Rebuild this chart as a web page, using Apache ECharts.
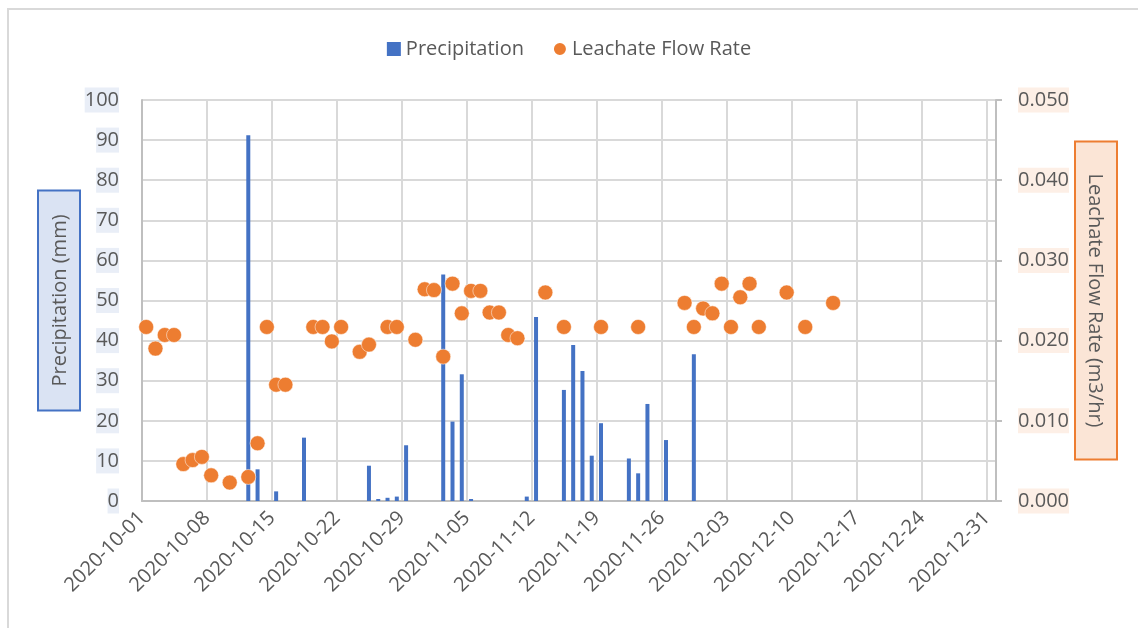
<!DOCTYPE html>
<html>
<head>
<meta charset="utf-8">
<script src="https://cdn.jsdelivr.net/npm/echarts@6/dist/echarts.min.js"></script>
<style>
  html, body { margin: 0; padding: 0; background: #fff; }
  #main { width: 1138px; height: 628px; }
</style>
</head>
<body>
<div id="main"></div>
<script>
// 降水量（柱）
var rainDates = ['2020-10-12', '2020-10-13', '2020-10-15', '2020-10-18', '2020-10-25', '2020-10-26',
    '2020-10-27', '2020-10-28', '2020-10-29', '2020-11-02', '2020-11-03', '2020-11-04', '2020-11-05',
    '2020-11-11', '2020-11-12', '2020-11-15', '2020-11-16', '2020-11-17', '2020-11-18', '2020-11-19',
    '2020-11-22', '2020-11-23', '2020-11-24', '2020-11-26', '2020-11-29'];
var rainValues = [91.2, 7.9, 2.4, 15.8, 8.8, 0.5,
    0.8, 1.1, 13.9, 56.5, 19.8, 31.6, 0.5,
    1.1, 45.9, 27.7, 38.9, 32.4, 11.3, 19.4,
    10.6, 6.9, 24.2, 15.2, 36.6];

// 渗滤液流量（散点）
var flowDates = ['2020-10-01', '2020-10-02', '2020-10-03', '2020-10-04', '2020-10-05', '2020-10-06',
    '2020-10-07', '2020-10-08', '2020-10-10', '2020-10-12', '2020-10-13', '2020-10-14', '2020-10-15',
    '2020-10-16', '2020-10-19', '2020-10-20', '2020-10-21', '2020-10-22', '2020-10-24', '2020-10-25',
    '2020-10-27', '2020-10-28', '2020-10-30', '2020-10-31', '2020-11-01', '2020-11-02', '2020-11-03',
    '2020-11-04', '2020-11-05', '2020-11-06', '2020-11-07', '2020-11-08', '2020-11-09', '2020-11-10',
    '2020-11-13', '2020-11-15', '2020-11-19', '2020-11-23', '2020-11-28', '2020-11-29', '2020-11-30',
    '2020-12-01', '2020-12-02', '2020-12-03', '2020-12-04', '2020-12-05', '2020-12-06', '2020-12-09',
    '2020-12-11', '2020-12-14'];
var flowValues = [0.0217, 0.0190, 0.0207, 0.0207, 0.0046, 0.0051,
    0.0055, 0.0032, 0.0023, 0.0030, 0.0072, 0.0217, 0.0145,
    0.0145, 0.0217, 0.0217, 0.0199, 0.0217, 0.0186, 0.0195,
    0.0217, 0.0217, 0.0201, 0.0264, 0.0263, 0.0180, 0.0271,
    0.0234, 0.0262, 0.0262, 0.0235, 0.0235, 0.0207, 0.0203,
    0.0260, 0.0217, 0.0217, 0.0217, 0.0247, 0.0217, 0.0240,
    0.0234, 0.0271, 0.0217, 0.0254, 0.0271, 0.0217, 0.0260,
    0.0217, 0.0247];

var startDate = '2020-10-01';
var totalDays = 92;   // 到 2021-01-01
var precipTicks = { min: 0, max: 100, interval: 10 };
var flowTicks = { min: 0, max: 0.05, interval: 0.01 };

var DAY = 86400000;
var t0 = Date.parse(startDate + 'T00:00:00Z');

// 日期 -> 天序号（标记放在当天的中间）
function dayPos(s) {
    return (Date.parse(s + 'T00:00:00Z') - t0) / DAY + 0.45;
}
function dayLabel(v) {
    if (v >= totalDays) return '';
    return new Date(t0 + v * DAY).toISOString().slice(0, 10);
}

var fontFamily = '"Open Sans", "Noto Sans", sans-serif';
var textColor = '#595959';

var myChart = echarts.init(document.getElementById('main'));

var option = {
    backgroundColor: '#fff',
    textStyle: { fontFamily: fontFamily },
    animation: false,
    graphic: [{
        type: 'polyline',
        shape: { points: [[8, 628], [8, 9], [1138, 9]] },
        style: { stroke: '#D9D9D9', lineWidth: 2, fill: null }
    }],
    legend: {
        top: 34,
        left: 'center',
        itemWidth: 14,
        itemHeight: 14,
        itemGap: 28,
        textStyle: { fontSize: 20, color: textColor, fontFamily: fontFamily },
        data: [
            { name: 'Precipitation', icon: 'rect' },
            { name: 'Leachate Flow Rate', icon: 'circle' }
        ]
    },
    grid: { left: 142, right: 142, top: 100, bottom: 127 },
    xAxis: {
        type: 'value',
        min: 0,
        max: totalDays,
        interval: 7,
        axisLine: { show: true, lineStyle: { color: '#BFBFBF', width: 2 } },
        axisTick: { show: false },
        axisLabel: {
            rotate: 45,
            margin: 14,
            fontSize: 20,
            color: textColor,
            fontFamily: fontFamily,
            formatter: dayLabel
        },
        splitLine: { show: true, lineStyle: { color: '#D9D9D9', width: 2 } }
    },
    yAxis: [{
        type: 'value',
        min: precipTicks.min,
        max: precipTicks.max,
        interval: precipTicks.interval,
        name: 'Precipitation (mm)',
        nameLocation: 'middle',
        nameRotate: 90,
        nameGap: 63,
        nameMoveOverlap: false,
        nameTextStyle: {
            fontSize: 20,
            color: textColor,
            fontFamily: fontFamily,
            backgroundColor: '#DAE3F3',
            borderColor: '#4472C4',
            borderWidth: 2,
            padding: [11, 23, 9, 23]
        },
        axisLine: { show: true, lineStyle: { color: '#BFBFBF', width: 2 } },
        axisTick: { show: false },
        axisLabel: {
            margin: 23,
            fontSize: 20,
            color: textColor,
            fontFamily: fontFamily,
            backgroundColor: '#E9EEF7',
            padding: [3, 0, 2, 0]
        },
        splitLine: { show: true, lineStyle: { color: '#D9D9D9', width: 2 } }
    }, {
        type: 'value',
        position: 'right',
        min: flowTicks.min,
        max: flowTicks.max,
        interval: flowTicks.interval,
        name: 'Leachate Flow Rate (m3/hr)',
        nameLocation: 'middle',
        nameRotate: -90,
        nameGap: 80,
        nameMoveOverlap: false,
        nameTextStyle: {
            fontSize: 20,
            color: textColor,
            fontFamily: fontFamily,
            backgroundColor: '#FBE5D6',
            borderColor: '#ED7D31',
            borderWidth: 2,
            padding: [11, 31, 9, 31]
        },
        axisLine: { show: true, lineStyle: { color: '#BFBFBF', width: 2 } },
        axisTick: { show: true, length: 6, lineStyle: { color: '#BFBFBF', width: 2 } },
        axisLabel: {
            margin: 22,
            fontSize: 20,
            color: textColor,
            fontFamily: fontFamily,
            backgroundColor: '#FDEFE6',
            padding: [3, 0, 2, 0],
            formatter: function (v) { return v.toFixed(3); }
        },
        splitLine: { show: false }
    }],
    series: [{
        name: 'Precipitation',
        type: 'bar',
        yAxisIndex: 0,
        barWidth: 4,
        itemStyle: { color: '#4472C4' },
        data: rainDates.map(function (d, i) { return [dayPos(d), rainValues[i]]; })
    }, {
        name: 'Leachate Flow Rate',
        type: 'scatter',
        yAxisIndex: 1,
        symbol: 'circle',
        symbolSize: 15,
        itemStyle: { color: '#ED7D31', opacity: 1, borderColor: '#fff', borderWidth: 0.5 },
        data: flowDates.map(function (d, i) { return [dayPos(d), flowValues[i]]; })
    }]
};

myChart.setOption(option);
</script>
</body>
</html>
